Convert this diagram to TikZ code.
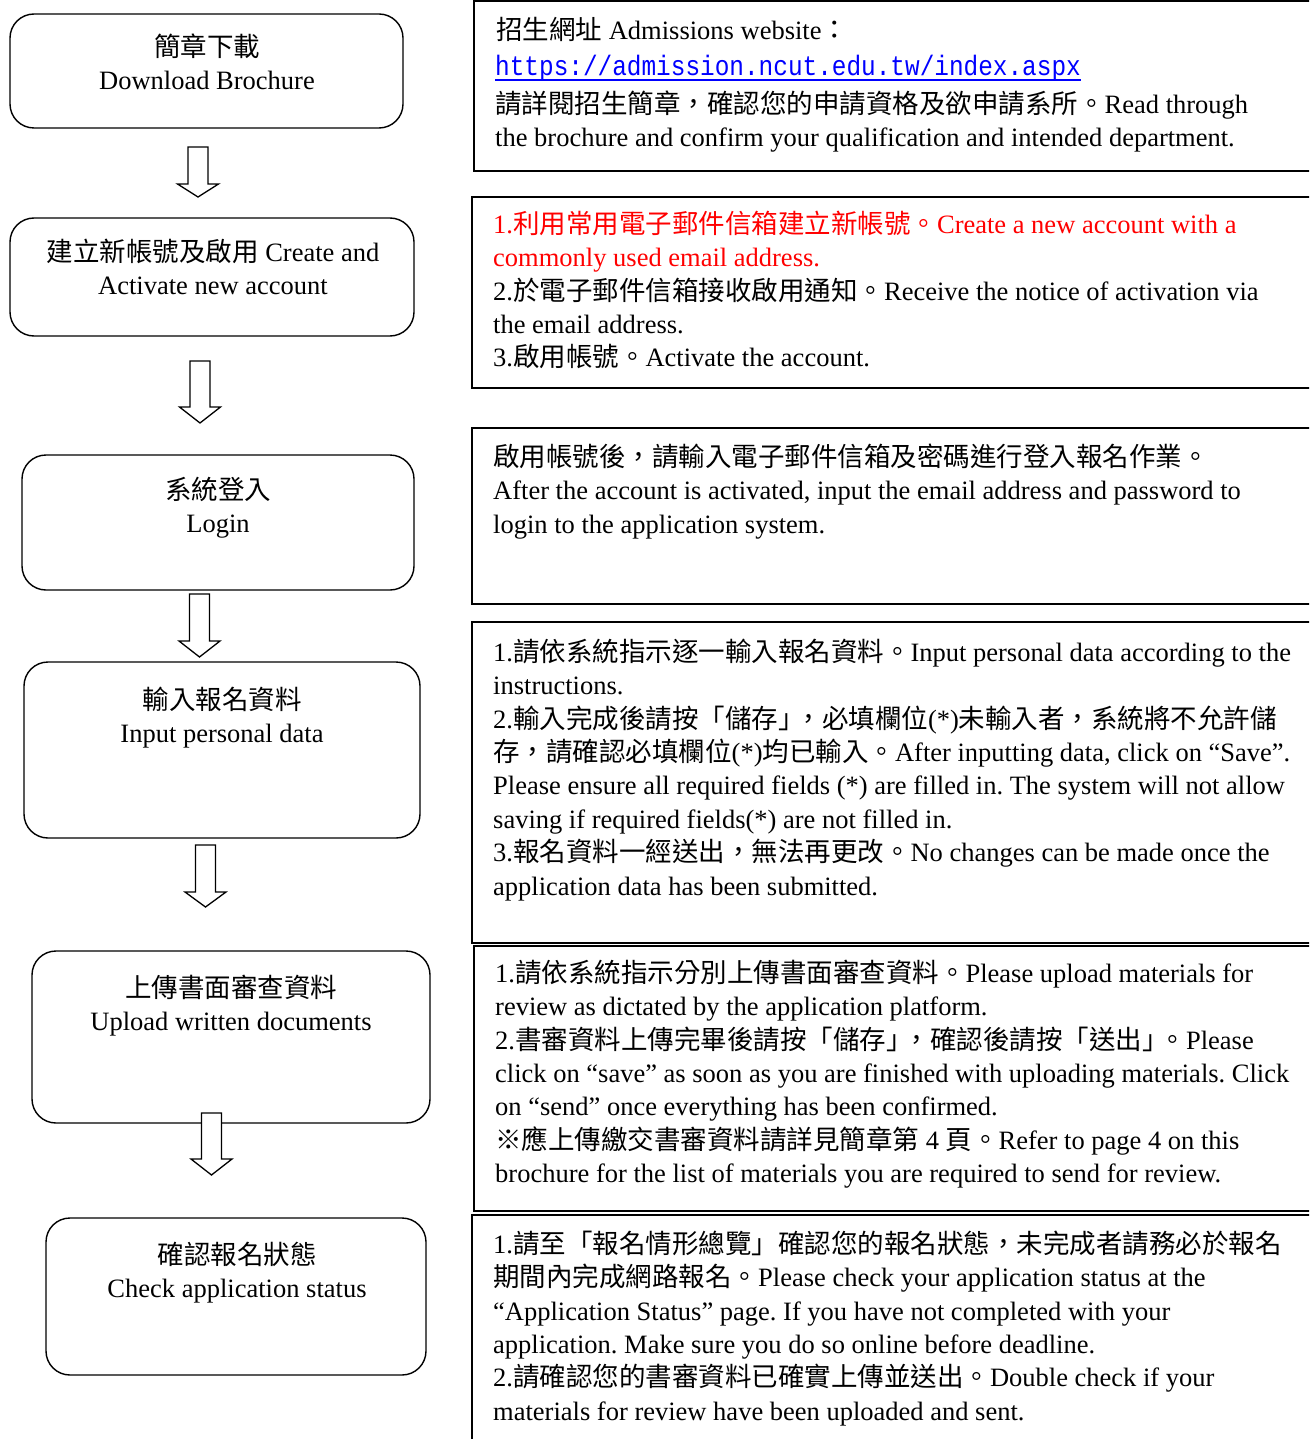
\documentclass[tikz,border=0pt]{standalone}
\usepackage{fontspec}
\setmainfont{Liberation Serif}
\newfontfamily\cjk{Noto Sans CJK TC}
\newfontfamily\urlfont{Liberation Mono}
\newcommand\zh[1]{{\cjk #1}}
\newcommand\fstrut{\rule{0pt}{24pt}}
\newcommand\pk{\kern-9pt}
\frenchspacing
\definecolor{linkblue}{RGB}{0,0,255}
\definecolor{alertred}{RGB}{255,0,0}
\tikzset{
  stepbox/.style={draw, line width=1.4pt, rounded corners=24pt},
  infobox/.style={draw, line width=1.8pt},
  blk/.style={draw, fill=white, line width=1.3pt, line join=miter},
  lefttext/.style={anchor=north, align=center, inner sep=0pt, font=\fontsize{26.5}{33.5}\selectfont\frenchspacing},
  righttext/.style={anchor=north west, align=left, inner sep=0pt, font=\fontsize{26.5}{33.4}\selectfont\frenchspacing},
}
\newcommand\blkarrow[5]{%
  \coordinate (#1) at (#2,#3);
  \draw[blk] (#2-10,#3) -- (#2-10,#4) -- (#2-20.5,#4) -- (#2,#5) -- (#2+20.5,#4) -- (#2+10,#4) -- (#2+10,#3) -- cycle;}
\begin{document}
\begin{tikzpicture}[x=1pt,y=-1pt]
\path[use as bounding box] (0,0) rectangle (1309,1439);
\clip (0,0) rectangle (1309,1439);
\fill[white] (0,0) rectangle (1309,1439);

% left step boxes
\draw[stepbox] (10,14) rectangle (403,128) node[pos=0.5] (b1) {};
\draw[stepbox] (10,218) rectangle (414,336) node[pos=0.5] (b2) {};
\draw[stepbox] (22,455) rectangle (414,590) node[pos=0.5] (b3) {};
\draw[stepbox] (24,662) rectangle (420,838) node[pos=0.5] (b4) {};
\draw[stepbox] (32,951) rectangle (430,1123) node[pos=0.5] (b5) {};
\draw[stepbox] (46,1218) rectangle (426,1375) node[pos=0.5] (b6) {};

\node[lefttext] (l1) at (207,32) {\fstrut\zh{簡章下載}\\Download Brochure};
\node[lefttext] (l2) at (213,237) {\fstrut\zh{建立新帳號及啟用} Create and\\Activate new account};
\node[lefttext] (l3) at (218,475) {\fstrut\zh{系統登入}\\Login};
\node[lefttext] (l4) at (222,685) {\fstrut\zh{輸入報名資料}\\Input personal data};
\node[lefttext] (l5) at (231,973) {\fstrut\zh{上傳書面審查資料}\\Upload written documents};
\node[lefttext] (l6) at (237,1240) {\fstrut\zh{確認報名狀態}\\Check application status};

% block arrows
\blkarrow{a1}{198}{147}{184}{197}
\blkarrow{a2}{200}{361}{407}{423}
\blkarrow{a3}{199.5}{594}{641}{657}
\blkarrow{a4}{205.5}{845}{892}{907}
\blkarrow{a5}{211.5}{1113}{1159}{1175}

% right info boxes
\draw[infobox] (474,1) rectangle (1330,171) node[pos=0.5] (r1) {};
\draw[infobox] (472,197) rectangle (1330,388) node[pos=0.5] (r2) {};
\draw[infobox] (472,428) rectangle (1330,604) node[pos=0.5] (r3) {};
\draw[infobox] (472,622) rectangle (1330,943) node[pos=0.5] (r4) {};
\draw[infobox] (474,946) rectangle (1330,1211) node[pos=0.5] (r5) {};
\draw[infobox] (472,1215) rectangle (1330,1460) node[pos=0.5] (r6) {};

\node[righttext] (t1a) at (496,15) {\fstrut\zh{招生網址} Admissions website\zh{：}};
\node[anchor=base west, inner sep=0pt, text=linkblue] (url) at (495,76)
  {\scalebox{1}[1.15]{\fontsize{24.4}{28}\urlfont https://admission.ncut.edu.tw/index.aspx}};
\draw[linkblue, line width=1.4pt] ([yshift=-4pt]url.base west) -- ([yshift=-4pt]url.base east);
\node[righttext] (t1b) at (495,89) {\fstrut\zh{請詳閱招生簡章，確認您的申請資格及欲申請系所。}Read through\\the brochure and confirm your qualification and intended department.};

\node[righttext] (t2) at (493,209) {\fstrut\textcolor{alertred}{1.\zh{利用常用電子郵件信箱建立新帳號。}Create a new account with a}\\
\textcolor{alertred}{commonly used email address.}\\
2.\zh{於電子郵件信箱接收啟用通知。}Receive the notice of activation via\\
the email address.\\
3.\zh{啟用帳號。}Activate the account.};

\node[righttext] (t3) at (493,442) {\fstrut\zh{啟用帳號後，請輸入電子郵件信箱及密碼進行登入報名作業。}\\
After the account is activated, input the email address and password to\\
login to the application system.};

\node[righttext] (t4) at (493,637) {\fstrut 1.\zh{請依系統指示逐一輸入報名資料。}Input personal data according to the\\
instructions.\\
2.\zh{輸入完成後請按「儲存」}\pk\zh{，必填欄位}(*)\zh{未輸入者，系統將不允許儲}\\
\zh{存，請確認必填欄位}(*)\zh{均已輸入。}After inputting data, click on “Save”.\\
Please ensure all required fields (*) are filled in. The system will not allow\\
saving if required fields(*) are not filled in.\\
3.\zh{報名資料一經送出，無法再更改。}No changes can be made once the\\
application data has been submitted.};

\node[righttext] (t5) at (495,958) {\fstrut 1.\zh{請依系統指示分別上傳書面審查資料。}Please upload materials for\\
review as dictated by the application platform.\\
2.\zh{書審資料上傳完畢後請按「儲存」}\pk\zh{，確認後請按「送出」}\pk\zh{。}Please\\
click on “save” as soon as you are finished with uploading materials. Click\\
on “send” once everything has been confirmed.\\
\zh{※應上傳繳交書審資料請詳見簡章第} 4 \zh{頁。}Refer to page 4 on this\\
brochure for the list of materials you are required to send for review.};

\node[righttext] (t6) at (493,1229) {\fstrut 1.\zh{請至「報名情形總覽」確認您的報名狀態，未完成者請務必於報名}\\
\zh{期間內完成網路報名。}Please check your application status at the\\
“Application Status” page. If you have not completed with your\\
application. Make sure you do so online before deadline.\\
2.\zh{請確認您的書審資料已確實上傳並送出。}Double check if your\\
materials for review have been uploaded and sent.};
\end{tikzpicture}
\end{document}
